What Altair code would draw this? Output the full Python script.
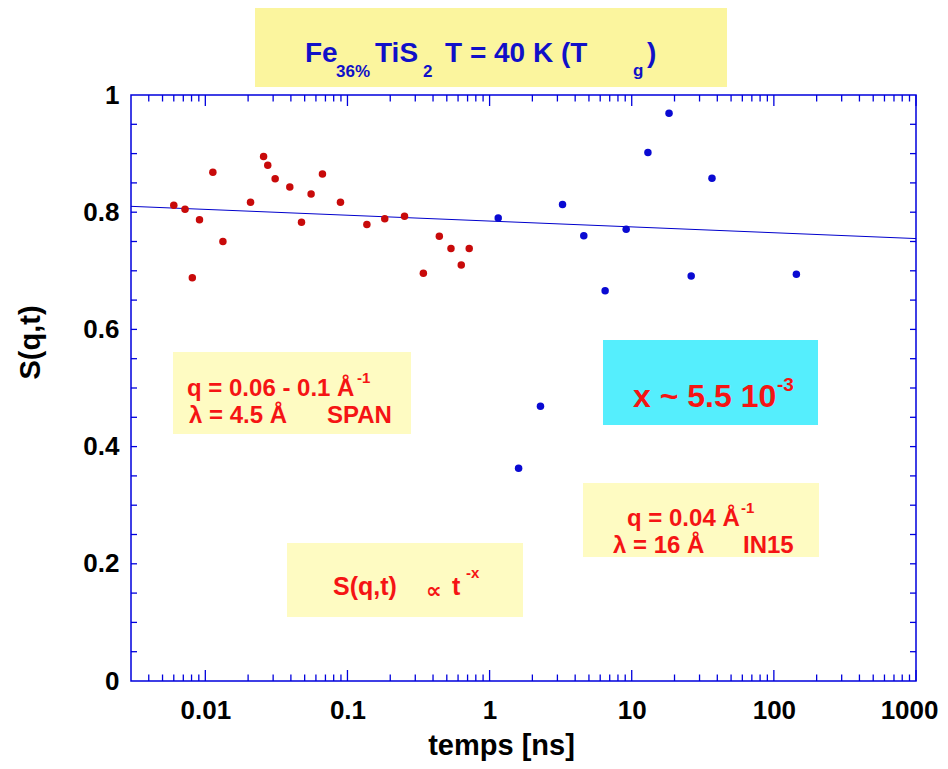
import altair as alt
import pandas as pd

# ---------------- data ----------------
span_t = [0.0060, 0.0072, 0.0081, 0.0091, 0.0113, 0.0133, 0.0208, 0.0257, 0.0275, 0.0310,
          0.0393, 0.0475, 0.0555, 0.0667, 0.0893, 0.137, 0.183, 0.252, 0.342, 0.443,
          0.535, 0.632, 0.719]
span_s = [0.812, 0.805, 0.688, 0.787, 0.868, 0.750, 0.817, 0.895, 0.880, 0.857,
          0.843, 0.783, 0.831, 0.865, 0.817, 0.779, 0.789, 0.793, 0.696, 0.759,
          0.738, 0.710, 0.738]
in15_t = [1.15, 1.60, 2.28, 3.26, 4.60, 6.50, 9.14, 13.0, 18.3, 26.2, 36.7, 144]
in15_s = [0.790, 0.363, 0.469, 0.813, 0.760, 0.666, 0.771, 0.902, 0.969, 0.691, 0.858, 0.694]

fit_t = [0.003, 1000]
fit_s = [0.810, 0.755]

x_label_values = [0.01, 0.1, 1, 10, 100, 1000]
x_minor_values = [m * d for d in [0.001, 0.01, 0.1, 1, 10, 100] for m in range(2, 10)
                  if 0.0035 < m * d < 1000]
y_label_values = [0, 0.2, 0.4, 0.6, 0.8, 1.0]
y_tick_values = [i * 0.05 for i in range(1, 20)]

W, H = 785, 586
PL, PT = 123, 87          # padding -> plot origin at page (131, 95)
OX, OY = PL + 8, PT + 8

FONT = "Liberation Sans"
RED = "#f51414"
BLUE_T = "#1010c8"
AX = "#0000dd"

pts = pd.DataFrame({
    "t": span_t + in15_t,
    "S": span_s + in15_s,
    "series": ["SPAN"] * len(span_t) + ["IN15"] * len(in15_t),
})
fit = pd.DataFrame({"t": fit_t, "S": fit_s})
one = pd.DataFrame({"a": [0]})

xscale = alt.Scale(type="log", domain=[0.003, 1000], nice=False)
yscale = alt.Scale(domain=[0, 1], nice=False, zero=False)

xaxis = alt.Axis(values=x_label_values, format="~g", title="temps [ns]",
                 titleX=370, titleY=64, titleBaseline="middle", titleAlign="center",
                 labelPadding=16, tickSize=0, labelFlush=True, labelFlushOffset=22,
                 labelOverlap=False)
yaxis = alt.Axis(values=y_label_values, format="~g", title="S(q,t)",
                 titleX=-101, titleY=247, titleBaseline="middle", titleAlign="center",
                 labelPadding=12, tickSize=0, labelFlush=False, labelOverlap=False)


def box(x1, x2, y1, y2, fill):
    return alt.Chart(one).mark_rect(fill=fill).encode(
        x=alt.value(x1 - OX), x2=alt.value(x2 - OX),
        y=alt.value(y1 - OY), y2=alt.value(y2 - OY))


def txt(s, x, y, size, color, font=FONT):
    return alt.Chart(one).mark_text(
        text=s, align="left", baseline="alphabetic", font=font,
        fontWeight="bold", fontSize=size, color=color).encode(
        x=alt.value(x - OX), y=alt.value(y - OY))


boxes = [
    box(255, 727, 8, 87, "#fbf59e"),
    box(173, 411, 352, 434, "#fefbc2"),
    box(603, 818, 340, 425, "#55eefd"),
    box(583, 819, 483, 557, "#fefbc2"),
    box(287, 523, 543, 617, "#fefbc2"),
]

texts = [
    txt("Fe", 305, 62, 28, BLUE_T),
    txt("36%", 336, 77, 17, BLUE_T),
    txt("TiS", 375, 62, 28, BLUE_T),
    txt("2", 423, 77, 17, BLUE_T),
    txt("T = 40 K (T", 445, 62, 28, BLUE_T),
    txt("g", 633, 76, 17, BLUE_T),
    txt(")", 647, 62, 28, BLUE_T),

    txt("q = 0.06 - 0.1 Å", 187, 396, 24, RED),
    txt("-1", 357, 383, 15, RED),
    txt("λ = 4.5 Å", 189, 423, 24, RED),
    txt("SPAN", 327, 423, 24, RED),

    txt("x ~ 5.5 10", 633, 407, 32, RED),
    txt("-3", 777, 391, 19, RED),

    txt("q = 0.04 Å", 627, 526, 24, RED),
    txt("-1", 741, 513, 15, RED),
    txt("λ = 16 Å", 613, 553, 24, RED),
    txt("IN15", 743, 553, 24, RED),

    txt("S(q,t)", 333, 595, 25, RED),
    txt("∝", 426, 598, 22, RED, font="DejaVu Sans"),
    txt("t", 452, 595, 25, RED),
    txt("-x", 466, 578, 15, RED),
]

xmaj = pd.DataFrame({"t": x_label_values})
xmin = pd.DataFrame({"t": x_minor_values})
ytk = pd.DataFrame({"S": y_tick_values})


def xticks(df, length):
    bottom = alt.Chart(df).mark_rule(color=AX, strokeWidth=1.3).encode(
        x=alt.X("t:Q", scale=xscale), y=alt.value(H), y2=alt.value(H - length))
    top = alt.Chart(df).mark_rule(color=AX, strokeWidth=1.3).encode(
        x=alt.X("t:Q", scale=xscale), y=alt.value(0), y2=alt.value(length))
    return [bottom, top]


yticks = [
    alt.Chart(ytk).mark_rule(color=AX, strokeWidth=1.3).encode(
        y=alt.Y("S:Q", scale=yscale), x=alt.value(0), x2=alt.value(6)),
    alt.Chart(ytk).mark_rule(color=AX, strokeWidth=1.3).encode(
        y=alt.Y("S:Q", scale=yscale), x=alt.value(W), x2=alt.value(W - 6)),
]

fit_line = alt.Chart(fit).mark_line(color="#0000cc", strokeWidth=1).encode(
    x=alt.X("t:Q", scale=xscale), y=alt.Y("S:Q", scale=yscale))

points = alt.Chart(pts).mark_circle(size=56, opacity=1).encode(
    x=alt.X("t:Q", scale=xscale, axis=xaxis),
    y=alt.Y("S:Q", scale=yscale, axis=yaxis),
    color=alt.Color("series:N",
                    scale=alt.Scale(domain=["SPAN", "IN15"], range=["#c80a0a", "#0a0ad2"]),
                    legend=None),
)

chart = alt.layer(
    *boxes, *xticks(xmaj, 11), *xticks(xmin, 6.5), *yticks, fit_line, points, *texts
).properties(
    width=W, height=H,
    autosize=alt.AutoSizeParams(type="none"),
    padding={"left": PL, "top": PT, "right": 24, "bottom": 80},
).configure_view(
    stroke=AX, strokeWidth=1.5
).configure_axis(
    grid=False, domain=False, ticks=False,
    labelFont=FONT, labelFontWeight="bold", labelFontSize=26, labelColor="black",
    titleFont=FONT, titleFontWeight="bold", titleFontSize=29, titleColor="black",
)

chart.save("out.html", embed_options={"renderer": "svg", "actions": False})
